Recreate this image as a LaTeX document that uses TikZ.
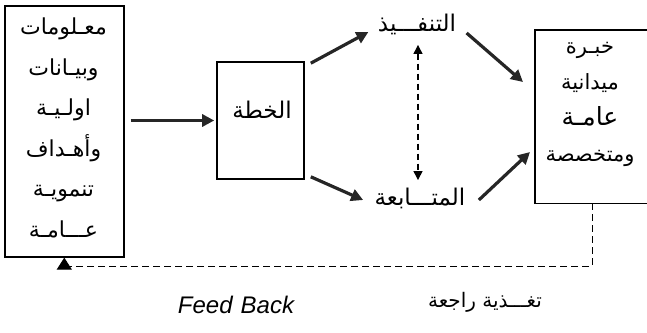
\documentclass[tikz,border=0pt]{standalone}
\usepackage{fontspec}
\newfontfamily\arabicfont[Script=Arabic]{DejaVu Sans}
\setsansfont{Liberation Sans}
\TeXXeTstate=1
\usetikzlibrary{arrows.meta,calc}
\begin{document}
\begin{tikzpicture}[x=1pt,y=-1pt,
  box/.style={draw,line width=1.6pt,inner sep=0pt},
  bigarrow/.style={line width=3.2pt,draw=black!85,-{Triangle[length=12pt,width=12pt]}},
  fb/.style={line width=1pt,dash pattern=on 7pt off 4pt},
  ar/.style={font=\arabicfont\fontsize{22}{26}\selectfont}]
\useasboundingbox (0,0) rectangle (647,332);
% left box
\node[box,minimum width=119pt,minimum height=251pt,anchor=north west] (src) at (4,5) {};
\node[align=center,font=\arabicfont\fontsize{22}{40.5}\selectfont] (srct) at (63.5,128)
 {\beginR معـلومات\endR\\ \beginR وبيـانات\endR\\ \beginR اولـيـة\endR\\ \beginR وأهـداف\endR\\ \beginR تنمويـة\endR\\ \beginR عـــامـة\endR};
% plan box
\node[box,minimum width=87pt,minimum height=117pt] (plan) at (260.5,120.5) {};
\node[font=\arabicfont\fontsize{23}{26}\selectfont] (plant) at (262,110) {\beginR الخطة\endR};
% execution / follow-up
\node[font=\arabicfont\fontsize{23}{26}\selectfont] (exec) at (417,24) {\beginR التنفـــيذ\endR};
\node[font=\arabicfont\fontsize{23}{26}\selectfont] (follow) at (420,198) {\beginR المتـــابعة\endR};
% right box
\node[minimum width=112pt,minimum height=173pt,anchor=north west,inner sep=0pt] (exp) at (535,30) {};
\draw[line width=1.6pt] (exp.north east) -- (exp.north west) -- (exp.south west) -- (exp.south east);
\node[align=center,font=\arabicfont\fontsize{21}{36}\selectfont] (expt) at (590,104)
 {\beginR خبـرة\endR\\ \beginR ميدانية\endR\\ {\fontsize{25}{36}\selectfont\beginR عامـة\endR}\\ \beginR ومتخصصة\endR};
% arrows
\draw[bigarrow] ($(src.east|-plan.west)+(6,0)$) -- ($(plan.west)+(-2,0)$);
\draw[bigarrow] ($(plan.north east)+(6,2)$) -- ($(exec.west)+(-6,8)$);
\draw[bigarrow] ($(plan.south east)+(6,-3)$) -- ($(follow.west)+(-8,2)$);
\draw[bigarrow] ($(exec.east)+(7,9)$) -- ($(exp.north west)+(-12,52)$);
\draw[bigarrow] ($(follow.east)+(10,2)$) -- ($(exp.north west)+(-5,122)$);
\draw[line width=1.3pt,dash pattern=on 6pt off 4pt,{Triangle[length=9pt,width=9pt]}-{Triangle[length=9pt,width=9pt]}]
  ($(exec.south)+(1,7)$) -- ($(follow.north)+(-2,-4)$);
% feedback loop
\draw[fb,-{Triangle[length=12pt,width=15pt]}] ($(exp.south west)+(57,0)$) -- ++(0,63) -| (src.south);
% captions
\node[font=\sffamily\itshape\fontsize{24}{28}\selectfont] (fbl) at (236,305) {Feed\,\,Back};
\node[font=\arabicfont\fontsize{20}{24}\selectfont] (fba) at (485,302) {\beginR تغـــذية راجعة\endR};
\end{tikzpicture}
\end{document}
